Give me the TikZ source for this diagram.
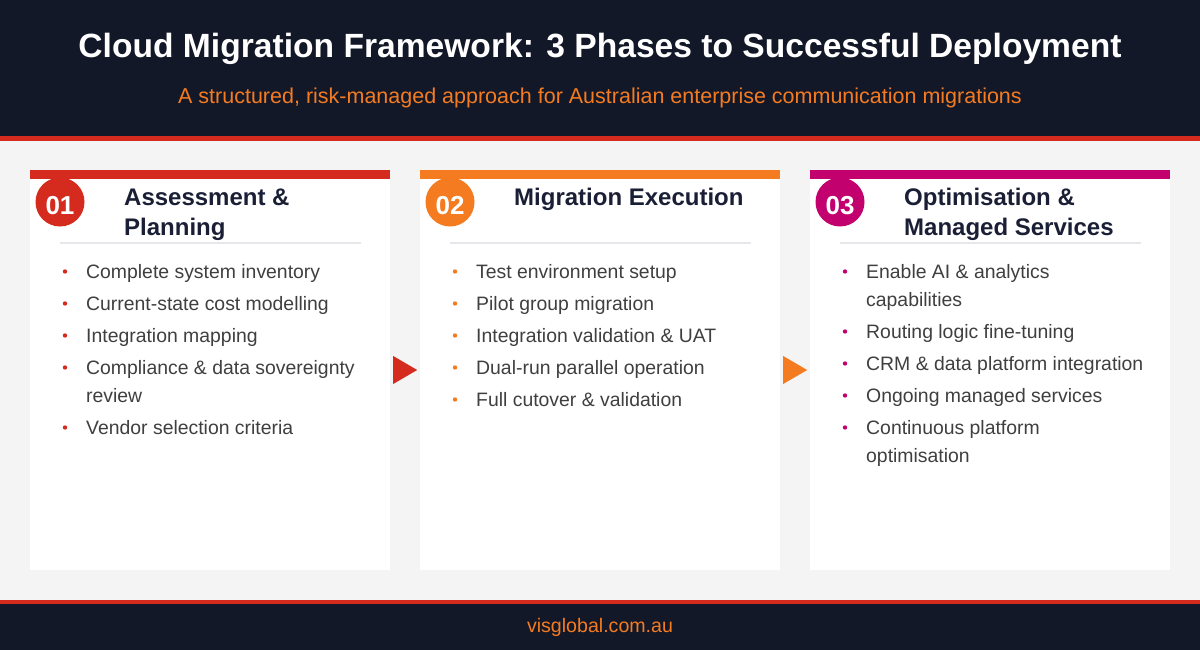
\documentclass[tikz,border=0pt]{standalone}
\usepackage{fontspec}
\setmainfont{Liberation Sans}
\usetikzlibrary{calc}
\definecolor{navy}{HTML}{131829}
\definecolor{pagebg}{HTML}{F4F4F4}
\definecolor{cred}{HTML}{D52B1E}
\definecolor{corange}{HTML}{F47B20}
\definecolor{cmag}{HTML}{C2006E}
\definecolor{headtxt}{HTML}{1A1F36}
\definecolor{bodytxt}{HTML}{3F3F3F}
\definecolor{sepgray}{HTML}{E5E7EB}
\tikzset{
  card/.style={fill=white, draw=none, inner sep=0pt, minimum width=360pt, minimum height=400pt},
  numdisc/.style={circle, fill=#1, inner sep=0pt, minimum size=49pt},
  numtxt/.style={text=white, font=\fontsize{26}{30}\selectfont\bfseries, inner sep=0pt},
  headline/.style={anchor=base west, inner sep=0pt, text=headtxt, font=\fontsize{24}{28}\selectfont\bfseries},
  itemtxt/.style={anchor=base west, inner sep=0pt, text=bodytxt, font=\fontsize{19.4}{23}\selectfont},
  sepline/.style={draw=sepgray, line width=2.5pt},
}
\newcommand{\bitem}[4]{% color, x, baseline y, text
  \fill[#1] (#2-21,#3-6.5) circle (2.2pt);
  \node[itemtxt] at (#2,#3) {#4};
}
\newcommand{\ctext}[3]{% x, baseline y, text (continuation)
  \node[itemtxt] at (#1,#2) {#3};
}
\begin{document}
\begin{tikzpicture}[x=1pt,y=-1pt]
\useasboundingbox (0,0) rectangle (1200,650);
\fill[pagebg] (0,0) rectangle (1200,650);
% header
\fill[navy] (0,0) rectangle (1200,136);
\fill[cred] (0,136) rectangle (1200,141);
\node[anchor=base, inner sep=0pt, text=white, font=\fontsize{33.6}{38}\selectfont\bfseries] (title) at (600,58) {Cloud Migration Framework: 3 Phases to Successful Deployment};
\node[anchor=base, inner sep=0pt, text=corange, font=\fontsize{21.5}{25}\selectfont] (subtitle) at (600,104) {A structured, risk-managed approach for Australian enterprise communication migrations};
% footer
\fill[cred] (0,600) rectangle (1200,604);
\fill[navy] (0,604) rectangle (1200,650);
\node[anchor=base, inner sep=0pt, text=corange, font=\fontsize{19.6}{23}\selectfont] (footer) at (600,632) {visglobal.com.au};

% cards
\node[card] (c1) at (210,370) {};
\node[card] (c2) at (600,370) {};
\node[card] (c3) at (990,370) {};

% number discs
\node[numdisc=cred] (n1) at (60,202) {};
\node[numdisc=corange] (n2) at (450,202) {};
\node[numdisc=cmag] (n3) at (840,202) {};
\node[numtxt] (t1) at ($(n1.center)+(0,4)$) {01};
\node[numtxt] (t2) at ($(n2.center)+(0,4)$) {02};
\node[numtxt] (t3) at ($(n3.center)+(0,4)$) {03};

% top bars
\fill[cred] (c1.north west) rectangle ($(c1.north east)+(0,9)$);
\fill[corange] (c2.north west) rectangle ($(c2.north east)+(0,9)$);
\fill[cmag] (c3.north west) rectangle ($(c3.north east)+(0,9)$);

% headings
\node[headline] (h1a) at (124,205) {Assessment \&};
\node[headline] (h1b) at (124,235) {Planning};
\node[headline] (h2a) at (514,205) {Migration Execution};
\node[headline] (h3a) at (904,205) {Optimisation \&};
\node[headline] (h3b) at (904,235) {Managed Services};

% separators
\draw[sepline] (60,243) -- (361,243);
\draw[sepline] (450,243) -- (751,243);
\draw[sepline] (840,243) -- (1141,243);

% card 1 items
\bitem{cred}{86}{278}{Complete system inventory}
\bitem{cred}{86}{310}{Current-state cost modelling}
\bitem{cred}{86}{342}{Integration mapping}
\bitem{cred}{86}{374}{Compliance \& data sovereignty}
\ctext{86}{402}{review}
\bitem{cred}{86}{434}{Vendor selection criteria}

% card 2 items
\bitem{corange}{476}{278}{Test environment setup}
\bitem{corange}{476}{310}{Pilot group migration}
\bitem{corange}{476}{342}{Integration validation \& UAT}
\bitem{corange}{476}{374}{Dual-run parallel operation}
\bitem{corange}{476}{406}{Full cutover \& validation}

% card 3 items
\bitem{cmag}{866}{278}{Enable AI \& analytics}
\ctext{866}{306}{capabilities}
\bitem{cmag}{866}{338}{Routing logic fine-tuning}
\bitem{cmag}{866}{370}{CRM \& data platform integration}
\bitem{cmag}{866}{402}{Ongoing managed services}
\bitem{cmag}{866}{434}{Continuous platform}
\ctext{866}{462}{optimisation}

% arrows between cards
\fill[cred] ($(c1.east)+(3,-14)$) -- ($(c1.east)+(27,0)$) -- ($(c1.east)+(3,14)$) -- cycle;
\fill[corange] ($(c2.east)+(3,-14)$) -- ($(c2.east)+(27,0)$) -- ($(c2.east)+(3,14)$) -- cycle;
\end{tikzpicture}
\end{document}
